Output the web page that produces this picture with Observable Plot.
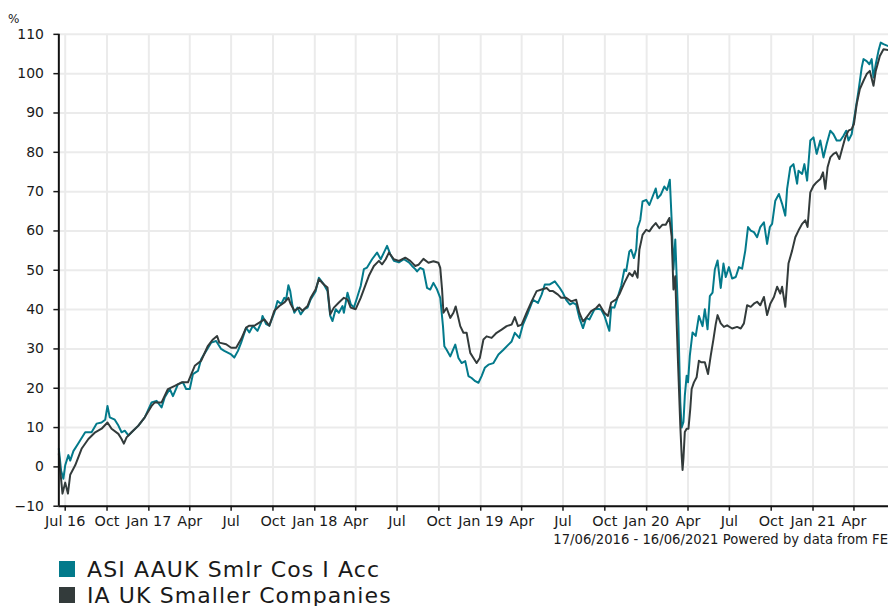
<!DOCTYPE html>
<html><head><meta charset="utf-8">
<script src="https://cdn.jsdelivr.net/npm/d3@7"></script>
<script src="https://cdn.jsdelivr.net/npm/@observablehq/plot@0.6"></script>
<style>
body{margin:0;background:#fff;font-family:"DejaVu Sans",Verdana,sans-serif;overflow:hidden}
#wrap{position:relative;width:888px;height:606px;overflow:hidden;background:#fff}
#chart{position:absolute;left:0;top:0}
#pct{position:absolute;left:8px;top:12px;font-size:12px;line-height:14px;color:#1a1a1a}
#cap{position:absolute;right:0;top:532px;font-size:13.2px;line-height:15px;color:#1a1a1a;white-space:nowrap}
#legend{position:absolute;left:59px;top:556px;font-size:22px;color:#1a1a1a;letter-spacing:1.1px}
.row{display:flex;align-items:center;height:26px;white-space:nowrap}
.sw{width:16px;height:16px;margin-right:12px;flex:none}
</style></head><body>
<div id="wrap"><div id="chart"></div><div id="pct">%</div><div id="cap">17/06/2016 - 16/06/2021 Powered by data from FE</div><div id="legend"></div></div>
<script>
// ---- data ----
const startDate = "2016-06-17";
const endDate = "2021-06-16";
const seriesNames = ["ASI AAUK Smlr Cos I Acc", "IA UK Smaller Companies"];
const seriesColors = ["#037a8b", "#333b3b"];
const yTicks = [-10, 0, 10, 20, 30, 40, 50, 60, 70, 80, 90, 100, 110];
const monthNames = ["Jan","Feb","Mar","Apr","May","Jun","Jul","Aug","Sep","Oct","Nov","Dec"];
// [days since start, % growth]
const fundSeries = [
[0,4.6],[5,-1],[10,-3],[14,0.4],[21,3],[25,1.6],[32,4],[43,6],[58,8.8],[72,8.8],[83,11],[94,11.3],[102,12],[107,15.5],[112,12.6],[123,12],[131,10.5],[138,8.8],[145,9.2],[153,8],[160,8.8],[175,10.5],[189,12.6],[204,16.4],[215,16.8],[226,15.1],[233,17.7],[244,19.8],[251,18],[262,21],[273,21.5],[280,19.8],[288,19.8],[295,23.6],[306,24.4],[313,27.4],[324,29.5],[335,31.6],[346,32],[357,30],
[364,29.5],[379,28.6],[386,27.8],[394,29.5],[401,31.6],[412,35.4],[419,34.2],[427,35.9],[437,34.6],[445,36.7],[448,38.4],[456,36.3],[463,35.9],[474,39.2],[481,42.2],[489,41.4],[496,43],[500,42.6],[505,46.2],[509,44.7],[514,40.9],[518,39.2],[525,40.5],[532,38.8],[540,40.1],[547,40.5],[554,42.6],[565,44.7],[572,48.1],[583,46.4],[591,44.7],[597,38.4],[602,37.1],[609,40.1],[616,39.2],[624,40.9],[627,39.2],[635,44.3],[642,41.4],[649,40.5],[656,43],[664,46],[671,50.3],[678,50.7],[689,52.8],[700,54.5],[708,52.8],[715,54.5],[722,56.2],[729,54.1],[737,52.4],[748,52],[759,52.8],[770,52],[777,51.1],[784,50.3],
[788,49.7],[795,50.6],[802,50.2],[810,45.5],[817,45.1],[824,46.8],[832,45.1],[839,43],[845,35.8],[848,30.7],[853,29.8],[861,28.1],[872,31.1],[879,27.7],[886,26.4],[894,26.9],[901,23.1],[908,22.6],[916,21.8],[923,21.4],[930,23.1],[937,25.2],[945,26],[956,26.4],[967,28.6],[978,29.8],[989,31.1],[996,31.9],[1003,34.1],[1013,32.8],[1021,36.2],[1032,39.2],[1043,42.5],[1054,41.7],[1062,43.8],[1069,46.4],[1080,46.4],[1091,47.2],[1102,45.5],[1109,44.2],[1116,42.5],[1124,41.3],[1131,41.7],[1138,41.3],[1145,37.9],[1153,35.3],[1160,37.9],[1167,37.5],[1178,40],[1186,40.2],[1193,40],[1200,38.5],[1208,35.6],[1211,34.6],[1215,40.6],
[1222,40.5],[1230,43.4],[1237,46],[1244,50.2],[1248,49.8],[1255,54.8],[1259,55.2],[1265,53.1],[1270,55.2],[1273,60.7],[1279,62.8],[1284,67.5],[1292,67.9],[1299,66.6],[1306,68.7],[1313,70.8],[1317,68.3],[1324,69.2],[1332,71.3],[1338,70.4],[1344,73],[1348,62.8],[1352,50.2],[1356,57.8],[1359,48.5],[1363,35.8],[1367,16.5],[1370,10],[1374,11.4],[1377,18.1],[1381,23.2],[1384,21.5],[1388,28.3],[1394,34.2],[1401,33.3],[1408,38.4],[1416,35.8],[1421,40.1],[1427,35],[1432,43.4],[1438,44.3],[1443,50.2],[1449,52.5],
[1456,45.5],[1462,51.7],[1467,48.3],[1474,50.8],[1481,47.9],[1489,48.3],[1496,50.8],[1503,50.4],[1510,55],[1516,61],[1522,60.1],[1529,59.7],[1536,58.4],[1543,61],[1551,62.2],[1558,56.7],[1564,61],[1569,61.8],[1576,67.7],[1584,69.4],[1591,66.9],[1598,63.9],[1602,70.7],[1609,76.2],[1616,77],[1624,72],[1627,75.3],[1635,74.5],[1640,77],[1646,72.8],[1653,83],[1660,83.8],[1667,79.6],[1675,83],[1682,78.7],[1689,82.1],[1697,85.5],[1704,84.6],[1711,83],[1719,83],[1726,84.2],[1732,85.5],[1737,83],[1744,84.6],[1751,89.7],[1759,95.6],[1766,101.5],[1770,103.7],[1777,103.2],[1783,102.4],[1788,103.7],[1792,99],[1797,102.4],[1803,105.8],[1808,107.9],[1814,107.5],[1825,107]
];
const sectorSeries = [
[0,3.3],[4,-2],[8,-6.8],[14,-4],[20,-6.8],[25,-2],[36,0.4],[50,4.6],[65,7.1],[80,8.8],[94,9.7],[107,11.3],[116,9.7],[131,8.4],[138,7.1],[143,5.9],[149,7.5],[160,8.8],[175,10.5],[189,12.6],[204,15.5],[211,16.4],[226,16.4],[240,19.8],[255,20.6],[270,21.5],[284,21.5],[299,25.7],[313,27],[328,30.8],[339,32.4],[348,33.3],[353,31.6],
[368,31.2],[379,30.3],[390,30.3],[401,32.5],[412,35.4],[419,35.9],[430,35.9],[441,36.7],[452,37.5],[463,35.9],[474,39.7],[485,40.9],[496,41.8],[505,43],[510,41.4],[518,39.7],[529,40.5],[536,39.7],[547,40.9],[554,43],[565,45.2],[572,47.7],[583,46.4],[591,45.6],[597,38.8],[605,40.5],[616,41.8],[627,43],[635,42.6],[642,40.5],[653,40.1],[664,43],[675,46.4],[682,48.6],[693,51.1],[704,52.4],[711,51.5],[719,52.8],[726,54.5],[737,52.8],[748,52.4],[762,53.2],[773,52.4],[784,51.1],
[791,51.4],[802,52.9],[813,51.9],[824,52.3],[835,51.9],[839,50.6],[843,45.1],[846,39.2],[853,40.4],[861,37.9],[868,39.2],[873,40.8],[883,35.8],[890,34.1],[897,34.1],[905,29],[912,27.7],[919,26.4],[926,27.7],[934,32.4],[941,33.2],[952,32.8],[963,34.1],[974,34.9],[985,35.8],[996,36.2],[1003,38.1],[1010,35.8],[1018,36.2],[1029,39.2],[1040,42.1],[1051,44.7],[1062,45.1],[1073,45.5],[1080,44.7],[1087,44.7],[1098,43.8],[1105,43],[1116,43],[1127,42.1],[1138,42.5],[1145,39.2],[1153,37],[1160,37.9],[1171,39.6],[1182,40.4],[1189,41.3],[1200,39.2],[1208,38.4],[1215,41.8],
[1226,42.6],[1233,43.9],[1244,46.8],[1255,49.3],[1262,48.5],[1267,49.8],[1273,48.1],[1277,55.2],[1284,59],[1292,60.3],[1299,59.9],[1306,61.1],[1313,62],[1321,60.7],[1328,61.6],[1335,61.6],[1343,63.3],[1348,58.6],[1352,45.1],[1356,48.5],[1359,36.7],[1362,26.6],[1367,10.6],[1370,3],[1372,-0.8],[1374,2.2],[1377,8.9],[1381,9.7],[1385,9.7],[1389,14.8],[1392,19.8],[1397,21.5],[1403,22.8],[1408,27],[1413,26.6],[1421,26.6],[1428,23.6],[1434,28.3],[1440,32.5],[1445,36.3],[1449,38.6],
[1456,36.5],[1463,35.6],[1470,36],[1481,35.2],[1492,35.6],[1500,35.2],[1507,36.5],[1514,41.1],[1522,40.7],[1529,41.5],[1536,42],[1543,41.1],[1551,43.2],[1558,38.6],[1565,41.5],[1573,43.2],[1580,45.8],[1587,44.1],[1591,45.8],[1598,40.7],[1605,51.7],[1613,55],[1620,58.4],[1627,60.1],[1635,61.8],[1642,62.7],[1647,61],[1653,69.8],[1660,71.5],[1667,72.4],[1675,73.2],[1681,74.9],[1686,70.7],[1691,76.2],[1697,78.7],[1704,79.6],[1710,80],[1717,78.3],[1724,81.3],[1730,83.8],[1737,85.5],[1744,85.9],[1749,87.2],[1755,92.2],[1762,96.1],[1770,98.2],[1777,99.9],[1784,100.7],[1792,96.9],[1797,100.7],[1806,104.5],[1814,106.2],[1825,106]
];

// ---- build ----
const start = new Date(startDate + "T00:00:00Z");
const end = new Date(endDate + "T00:00:00Z");
const toRows = (pairs, name) => pairs.map(([d, v]) => ({date: d3.utcDay.offset(start, d), value: v, series: name}));
const rows = [...toRows(fundSeries, seriesNames[0]), ...toRows(sectorSeries, seriesNames[1])];
const xTicks = d3.utcMonth.every(3).range(d3.utcMonth.ceil(start), end);
const xFmt = (d) => {
  const m = d.getUTCMonth();
  const yy = String(d.getUTCFullYear()).slice(2);
  return (m === 0 || +d === +xTicks[0]) ? monthNames[m] + " " + yy : monthNames[m];
};

const chart = Plot.plot({
  width: 892,
  height: 548,
  marginLeft: 58.6,
  marginRight: 0,
  marginTop: 34,
  marginBottom: 40,
  style: {fontFamily: "'DejaVu Sans', Verdana, sans-serif", color: "#1a1a1a", background: "white"},
  x: {type: "utc", domain: [start, end]},
  y: {domain: [-10, 110]},
  color: {domain: seriesNames, range: seriesColors},
  marks: [
    Plot.gridX(xTicks, {stroke: "#ebebeb", strokeOpacity: 1, strokeWidth: 2}),
    Plot.gridY(yTicks, {stroke: "#ebebeb", strokeOpacity: 1, strokeWidth: 2}),
    Plot.axisX(xTicks, {tickFormat: xFmt, tickSize: 5, tickPadding: 5, fontSize: 14.5, label: null, strokeWidth: 1.5}),
    Plot.axisY(yTicks, {tickSize: 5, tickPadding: 10, fontSize: 14, label: null, strokeWidth: 1.5}),
    Plot.line(rows, {x: "date", y: "value", z: "series", stroke: "series", strokeWidth: 2, strokeLinejoin: "round"}),
    Plot.ruleY([-10], {stroke: "#111", strokeWidth: 2}),
    Plot.ruleX([start], {stroke: "#111", strokeWidth: 2})
  ]
});
document.getElementById("chart").appendChild(chart);

const legend = d3.select("#legend");
seriesNames.forEach((n, i) => {
  const r = legend.append("div").attr("class", "row");
  r.append("div").attr("class", "sw").style("background", seriesColors[i]);
  r.append("span").text(n);
});
</script>
</body></html>
